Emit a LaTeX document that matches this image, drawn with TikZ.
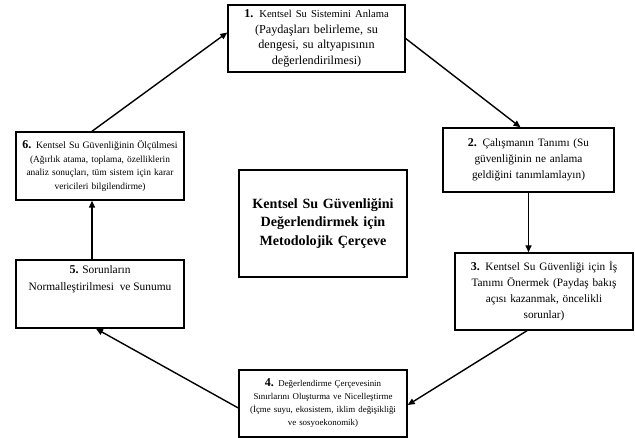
\documentclass[tikz,border=0pt]{standalone}
\usepackage{fontspec}
\setmainfont{Liberation Serif}
\usepackage{tikz}
\usetikzlibrary{arrows.meta,positioning}

\begin{document}
\begin{tikzpicture}[
  x=1pt, y=-1pt,
  >={Triangle[length=7pt,width=6pt]},
  every node/.style={font=\small},
  blk/.style={draw, line width=1.4pt, inner sep=2pt, align=center},
  lbl/.style={align=center, inner sep=0pt},
  arr/.style={->, line width=1.4pt}
]
\useasboundingbox (0,0) rectangle (635,438);

%% Nodes
\node[blk, minimum width=177, minimum height=67, text width=172, font=\fontsize{12.2}{15.5}\selectfont]
  (b1) at (316.5,38.5)
  {{\fontsize{10.6}{15.5}\selectfont\textbf{\large 1.} Kentsel Su Sistemini Anlama}\\(Paydaşları belirleme, su\\dengesi, su altyapısının\\değerlendirilmesi)};
\node[blk, minimum width=171, minimum height=64, text width=166, font=\fontsize{11.3}{16}\selectfont]
  (b2) at (528.5,160)
  {\textbf{\large 2.} Çalışmanın Tanımı (Su\\güvenliğinin ne anlama\\geldiğini tanımlamlayın)};
\node[blk, minimum width=178, minimum height=77, text width=174, font=\fontsize{11.3}{16}\selectfont]
  (b3) at (544,291.5)
  {\textbf{\large 3.} Kentsel Su Güvenliği için İş\\Tanımı Önermek (Paydaş bakış\\açısı kazanmak, öncelikli\\sorunlar)};
\node[blk, minimum width=168, minimum height=67, text width=164, font=\fontsize{8.9}{13}\selectfont]
  (b4) at (323,403.5)
  {\textbf{\large 4.} Değerlendirme Çerçevesinin\\Sınırlarını Oluşturma ve Nicelleştirme\\(İçme suyu, ekosistem, iklim değişikliği\\ve sosyoekonomik)};
\node[blk, minimum width=168, minimum height=68,
      label={[lbl, anchor=north, yshift=-6pt, font=\fontsize{11.4}{17}\selectfont]north:{\textbf{\large 5.} Sorunların\\Normalleştirilmesi\ \ ve Sunumu}}]
  (b5) at (100,294) {};
\node[blk, minimum width=168, minimum height=68, text width=164, font=\fontsize{9.4}{13.5}\selectfont]
  (b6) at (100,166)
  {{\fontsize{9.8}{13.5}\selectfont\textbf{\large 6.} Kentsel Su Güvenliğinin Ölçülmesi}\\(Ağırlık atama, toplama, özelliklerin\\analiz sonuçları, tüm sistem için karar\\vericileri bilgilendirme)};
\node[blk, minimum width=168, minimum height=107, text width=164, font=\fontsize{14.1}{18.5}\selectfont\bfseries]
  (mid) at (323,223.5)
  {Kentsel Su Güvenliğini\\Değerlendirmek için\\Metodolojik Çerçeve};

%% Arrows
\draw[arr] ([xshift=-8pt]b6.north)  -- ([yshift=6pt]b1.west);
\draw[arr] (b1.east)                -- ([xshift=-8pt]b2.north);
\draw[arr] (b2.south)               -- (b2.south |- b3.north);
\draw[arr] ([xshift=-17pt]b3.south) -- ([yshift=-1.5pt]b4.east);
\draw[arr] ([yshift=-4.5pt]b4.west) -- ([xshift=-4pt]b5.south);
\draw[arr] ([xshift=-8pt]b5.north)  -- ([xshift=-8pt]b6.south);
\end{tikzpicture}
\end{document}
